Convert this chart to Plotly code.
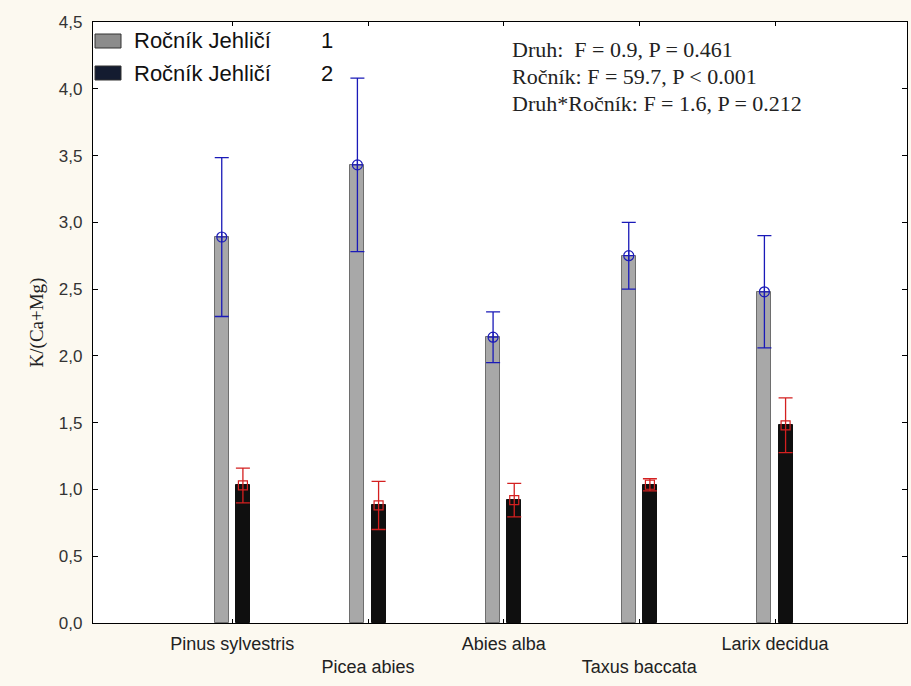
import plotly.graph_objects as go

species = ["Pinus sylvestris", "Picea abies", "Abies alba", "Taxus baccata", "Larix decidua"]
tick_text = ["Pinus sylvestris", "<br>Picea abies", "Abies alba", "<br>Taxus baccata", "Larix decidua"]
year1_mean = [2.89, 3.43, 2.14, 2.75, 2.48]
year1_err = [0.595, 0.65, 0.19, 0.25, 0.42]
year2_mean = [1.03, 0.88, 0.92, 1.035, 1.48]
year2_err = [0.13, 0.18, 0.125, 0.045, 0.205]
legend_label = "Ročník Jehličí"
legend_codes = ["1", "2"]
stats_lines = ["Druh:  F = 0.9, P = 0.461",
               "Ročník: F = 59.7, P < 0.001",
               "Druh*Ročník: F = 1.6, P = 0.212"]

W, H = 911, 686
L, R, T, B = 93, 907, 22, 623
off = 0.078
bw = 0.104

def px(x):
    return (x - L) / (R - L)

def py(y):
    return (B - y) / (B - T)

idx = list(range(len(species)))
x1 = [i - off for i in idx]
x2 = [i + off for i in idx]

fig = go.Figure()
fig.add_trace(go.Bar(x=x1, y=year1_mean, width=bw, marker=dict(color="#a8a8a8", line=dict(color="#6e6e6e", width=1)),
                     showlegend=False, hoverinfo="skip"))
fig.add_trace(go.Bar(x=x2, y=year2_mean, width=bw, marker=dict(color="#0f0f0f", line=dict(color="#0f0f0f", width=1)),
                     showlegend=False, hoverinfo="skip"))
fig.add_trace(go.Scatter(x=x1, y=year1_mean, mode="markers",
                         marker=dict(symbol="circle-cross-open", size=10, color="#1a1ab8", line=dict(width=1.2)),
                         error_y=dict(type="data", array=year1_err, color="#1a1ab8", thickness=1.3, width=7),
                         showlegend=False))
fig.add_trace(go.Scatter(x=x2, y=year2_mean, mode="markers",
                         marker=dict(symbol="square-open", size=9, color="#d42020", line=dict(width=1.2)),
                         error_y=dict(type="data", array=year2_err, color="#d42020", thickness=1.3, width=7),
                         showlegend=False))

shapes = []
annotations = []
box_colors = ["#8c8c8c", "#141c30"]
rows_y = [41, 73]
for k, code in enumerate(legend_codes):
    yc = rows_y[k]
    shapes.append(dict(type="rect", xref="paper", yref="paper", x0=px(95), x1=px(121), y0=py(yc + 7), y1=py(yc - 7),
                       fillcolor=box_colors[k], line=dict(color="#333333", width=1)))
    annotations.append(dict(xref="paper", yref="paper", x=px(132), y=py(yc), xanchor="left", yanchor="middle",
                            text=legend_label, showarrow=False,
                            font=dict(family="Liberation Sans, Arial", size=22, color="#111111")))
    annotations.append(dict(xref="paper", yref="paper", x=px(327), y=py(yc), xanchor="center", yanchor="middle",
                            text=code, showarrow=False,
                            font=dict(family="Liberation Sans, Arial", size=22, color="#111111")))

for k, line in enumerate(stats_lines):
    annotations.append(dict(xref="paper", yref="paper", x=px(510), y=py(50 + 26.5 * k), xanchor="left", yanchor="middle",
                            text=line, showarrow=False,
                            font=dict(family="Liberation Serif, Times New Roman", size=22, color="#222222")))

fig.update_layout(
    width=W, height=H,
    margin=dict(l=L, r=W - R, t=T, b=H - B),
    paper_bgcolor="#fcf9f0", plot_bgcolor="#ffffff",
    separators=", ",
    barmode="overlay",
    bargap=0,
    shapes=shapes,
    annotations=annotations,
    xaxis=dict(range=[-1.027, 4.973], tickvals=idx, ticktext=tick_text, ticks="inside", ticklen=4, tickcolor="#000",
               showline=True, linecolor="#000", linewidth=1.2, mirror="ticks", showgrid=False, zeroline=False,
               ticklabelstandoff=4,
               tickfont=dict(family="Liberation Sans, Arial", size=18, color="#222222")),
    yaxis=dict(range=[0, 4.5], tickvals=[0, 0.5, 1, 1.5, 2, 2.5, 3, 3.5, 4, 4.5], tickformat=".1f",
               ticks="inside", ticklen=5, tickcolor="#000", showline=True, linecolor="#000", linewidth=1.2,
               mirror="ticks", showgrid=False, zeroline=False, ticklabelstandoff=6,
               tickfont=dict(family="Liberation Sans, Arial", size=17, color="#333333"),
               title=dict(text="K/(Ca+Mg)", standoff=10,
                          font=dict(family="Liberation Serif, Times New Roman", size=19, color="#222222"))),
)

fig.write_html("out.html")
